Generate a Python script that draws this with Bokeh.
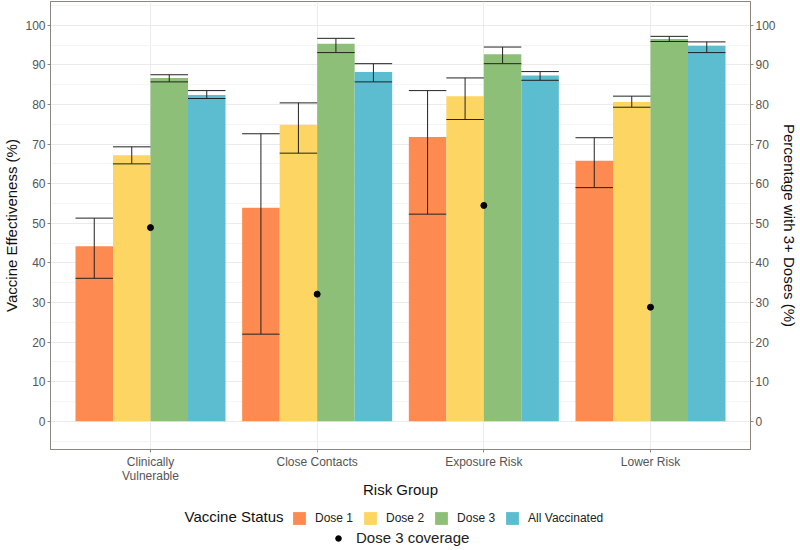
from bokeh.plotting import figure
from bokeh.models import (FactorRange, Range1d, LinearAxis, SingleIntervalTicker,
                          Legend, LegendItem, ColumnDataSource, Label)
from bokeh.transform import dodge
from bokeh.layouts import column
from bokeh.embed import file_html
from bokeh.resources import INLINE

# ---------------- data ----------------
groups = ["Clinically\nVulnerable", "Close Contacts", "Exposure Risk", "Lower Risk"]
statuses = ["Dose 1", "Dose 2", "Dose 3", "All Vaccinated"]
colors = ["#FD8A50", "#FDD563", "#8EBF79", "#5BBDCF"]

dose1_ve = [44.2, 53.9, 71.8, 65.8]
dose1_lo = [36.1, 22.0, 52.3, 59.0]
dose1_hi = [51.3, 72.6, 83.5, 71.6]

dose2_ve = [67.2, 74.9, 82.1, 80.6]
dose2_lo = [65.0, 67.7, 76.2, 79.3]
dose2_hi = [69.3, 80.4, 86.7, 82.1]

dose3_ve = [86.7, 95.3, 92.7, 96.5]
dose3_lo = [85.7, 93.1, 90.3, 95.9]
dose3_hi = [87.5, 96.7, 94.5, 97.2]

allvac_ve = [82.4, 88.2, 87.3, 94.8]
allvac_lo = [81.5, 85.7, 86.1, 93.1]
allvac_hi = [83.5, 90.3, 88.3, 95.8]

dose3_coverage = [48.9, 32.1, 54.5, 28.8]

series_ve = [dose1_ve, dose2_ve, dose3_ve, allvac_ve]
series_lo = [dose1_lo, dose2_lo, dose3_lo, allvac_lo]
series_hi = [dose1_hi, dose2_hi, dose3_hi, allvac_hi]

# ---------------- main figure ----------------
FONT = "Liberation Sans"
AXIS_COL = "#8c8580"
TICK_COL = "#555555"
W = 800
MAIN_H = 500
LEG_H = 48

x_range = FactorRange(factors=groups, range_padding=0.1, range_padding_units="absolute")
p = figure(width=W, height=MAIN_H, x_range=x_range, y_range=Range1d(-7.13, 106.0),
           output_backend="svg", toolbar_location=None,
           min_border_top=1, min_border_right=0, min_border_left=0, min_border_bottom=0)
p.background_fill_color = "white"
p.border_fill_color = "white"
p.outline_line_color = AXIS_COL
p.outline_line_width = 1

total_w = 0.9
w = total_w / len(statuses)
offsets = [-total_w / 2 + w / 2 + i * w for i in range(len(statuses))]

bar_info = []
for status, col, ve, lo, hi, off in zip(statuses, colors, series_ve, series_lo, series_hi, offsets):
    src = ColumnDataSource(dict(group=groups, ve=ve, lo=lo, hi=hi))
    p.vbar(x=dodge("group", off, range=p.x_range), top="ve", bottom=0, width=w,
           source=src, fill_color=col, line_color=None)
    bar_info.append((src, off))

for src, off in bar_info:
    p.segment(x0=dodge("group", off, range=p.x_range), x1=dodge("group", off, range=p.x_range),
              y0="lo", y1="hi", source=src, line_color="#222222", line_width=1)
    for col_name in ["lo", "hi"]:
        p.segment(x0=dodge("group", off - w / 2, range=p.x_range),
                  x1=dodge("group", off + w / 2, range=p.x_range),
                  y0=col_name, y1=col_name, source=src, line_color="#222222", line_width=1)

cov_src = ColumnDataSource(dict(group=groups, cov=dose3_coverage))
p.scatter(x="group", y="cov", source=cov_src, size=6, color="black")

yt = SingleIntervalTicker(interval=10, num_minor_ticks=2)
p.yaxis.ticker = yt
p.ygrid.ticker = yt
p.ygrid.grid_line_color = "#ebebeb"
p.ygrid.minor_grid_line_color = "#f5f5f5"
p.xgrid.grid_line_color = "#ebebeb"

def style_axis(ax):
    ax.axis_line_color = AXIS_COL
    ax.major_tick_line_color = AXIS_COL
    ax.major_tick_out = 3
    ax.major_tick_in = 0
    ax.minor_tick_out = 0
    ax.minor_tick_in = 0
    ax.major_label_text_font = FONT
    ax.major_label_text_font_size = "12px"
    ax.major_label_text_color = TICK_COL
    ax.major_label_text_line_height = 1.0
    ax.axis_label_text_font = FONT
    ax.axis_label_text_font_size = "15px"
    ax.axis_label_text_font_style = "normal"
    ax.axis_label_text_color = "#111111"
    ax.major_label_standoff = 2
    ax.axis_label_standoff = 2

p.yaxis.axis_label = "Vaccine Effectiveness (%)"
style_axis(p.yaxis[0])
p.xaxis.axis_label = "Risk Group"
style_axis(p.xaxis[0])
p.xaxis.major_label_standoff = 2
p.xaxis.axis_label_standoff = -5

right_axis = LinearAxis(ticker=SingleIntervalTicker(interval=10, num_minor_ticks=2),
                        axis_label="Percentage with 3+ Doses (%)")
style_axis(right_axis)
p.add_layout(right_axis, "right")

# ---------------- legend strip ----------------
lf = figure(width=W, height=LEG_H, x_range=Range1d(0, W), y_range=Range1d(0, LEG_H),
            x_axis_type=None, y_axis_type=None, output_backend="svg", toolbar_location=None,
            min_border=0)
lf.outline_line_color = None
lf.grid.visible = False
lf.background_fill_color = "white"
lf.border_fill_color = "white"
if "frame_align" in lf.properties():
    lf.frame_align = False
    p.frame_align = False

# off-screen stand-ins that only feed the legend glyphs
hidden = ColumnDataSource(dict(x=[-100], y=[-100]))
swatches = [lf.vbar(x="x", top="y", bottom="y", width=1, source=hidden,
                    fill_color=c, line_color=None) for c in colors]
dot = lf.scatter(x="x", y="y", source=hidden, size=6, color="black")

leg1 = Legend(items=[LegendItem(label=s, renderers=[r]) for s, r in zip(statuses, swatches)],
              orientation="horizontal", location=(291, 22))
leg2 = Legend(items=[LegendItem(label="Dose 3 coverage", renderers=[dot])],
              orientation="horizontal", location=(330, 2))
for lg in (leg1, leg2):
    lg.label_text_font = FONT
    lg.label_text_font_size = "12px"
    lg.label_text_color = "#222222"
    lg.border_line_color = None
    lg.background_fill_alpha = 0
    lg.glyph_width = 16
    lg.glyph_height = 16
    lg.label_standoff = 8
    lg.spacing = 9
    lg.padding = 2
    lg.margin = 0
leg2.label_text_font_size = "15px"
leg2.label_standoff = 10
leg2.glyph_height = 14
leg2.padding = 0
lf.add_layout(leg1)
lf.add_layout(leg2)

lf.add_layout(Label(x=283, y=32, text="Vaccine Status", text_font=FONT,
                    text_font_size="15px", text_color="#111111",
                    text_align="right", text_baseline="middle"))

layout = column(p, lf, spacing=0)
open("out.html", "w").write(file_html(layout, INLINE))
